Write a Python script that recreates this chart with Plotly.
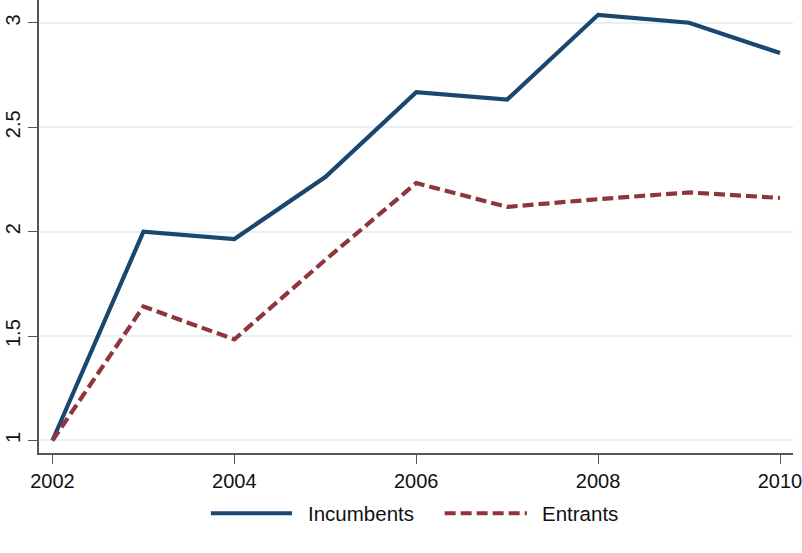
import plotly.graph_objects as go

# Index values (2002 = 1) by firm group
years = [2002, 2003, 2004, 2005, 2006, 2007, 2008, 2009, 2010]
incumbents = [1.0, 2.0, 1.965, 2.262, 2.668, 2.633, 3.039, 3.001, 2.856]
entrants = [1.0, 1.642, 1.484, 1.865, 2.233, 2.119, 2.156, 2.188, 2.162]

x_ticks = [2002, 2004, 2006, 2008, 2010]
y_ticks = [1, 1.5, 2, 2.5, 3]
y_tick_text = ["1", "1.5", "2", "2.5", "3"]

NAVY = "#1a476f"
MAROON = "#90353b"
AXIS = "#555555"
GRID = "#e9eff3"
FONT = "Liberation Sans, Arial, sans-serif"
DASH = "11px,5px"
TICK_SIZE = 20
LEGEND_SIZE = 20.5

fig = go.Figure()
fig.add_trace(go.Scatter(x=years, y=incumbents, mode="lines", name="Incumbents",
                         line=dict(color=NAVY, width=4.2), showlegend=False))
fig.add_trace(go.Scatter(x=years, y=entrants, mode="lines", name="Entrants",
                         line=dict(color=MAROON, width=4.2, dash=DASH), showlegend=False))

# Legend row drawn beneath the plot
legend_y = -0.133
for x0, x1, color, dash, label, tx in [
    (0.228, 0.3355, NAVY, "solid", "Incumbents", 0.354),
    (0.538, 0.647, MAROON, DASH, "Entrants", 0.6645),
]:
    fig.add_shape(type="line", xref="paper", yref="paper", x0=x0, x1=x1,
                  y0=legend_y, y1=legend_y, line=dict(color=color, width=4.2, dash=dash))
    fig.add_annotation(xref="paper", yref="paper", x=tx, y=legend_y, text=label,
                       showarrow=False, xanchor="left", yanchor="middle",
                       font=dict(family=FONT, size=LEGEND_SIZE, color="#111111"))

fig.update_layout(
    width=802, height=553,
    margin=dict(l=39, r=9, t=0, b=100),
    paper_bgcolor="white", plot_bgcolor="white",
    font=dict(family=FONT, size=TICK_SIZE, color="#111111"),
    xaxis=dict(range=[2001.8516, 2010.143],
               tickvals=x_ticks, ticks="outside", ticklen=9, tickwidth=1.3,
               tickcolor=AXIS, showline=True, linecolor=AXIS, linewidth=1.5,
               showgrid=False, zeroline=False, ticklabeloverflow="allow",
               tickfont=dict(family=FONT, size=TICK_SIZE, color="#111111")),
    yaxis=dict(range=[0.940, 3.110], tickvals=y_ticks, ticktext=y_tick_text,
               tickangle=-90, ticks="outside", ticklen=9, tickwidth=1.3,
               tickcolor=AXIS, showline=True, linecolor=AXIS, linewidth=1.5,
               showgrid=True, gridcolor=GRID, gridwidth=1.5, zeroline=False,
               ticklabeloverflow="allow",
               tickfont=dict(family=FONT, size=TICK_SIZE, color="#111111")),
)

fig.write_html("out.html")
